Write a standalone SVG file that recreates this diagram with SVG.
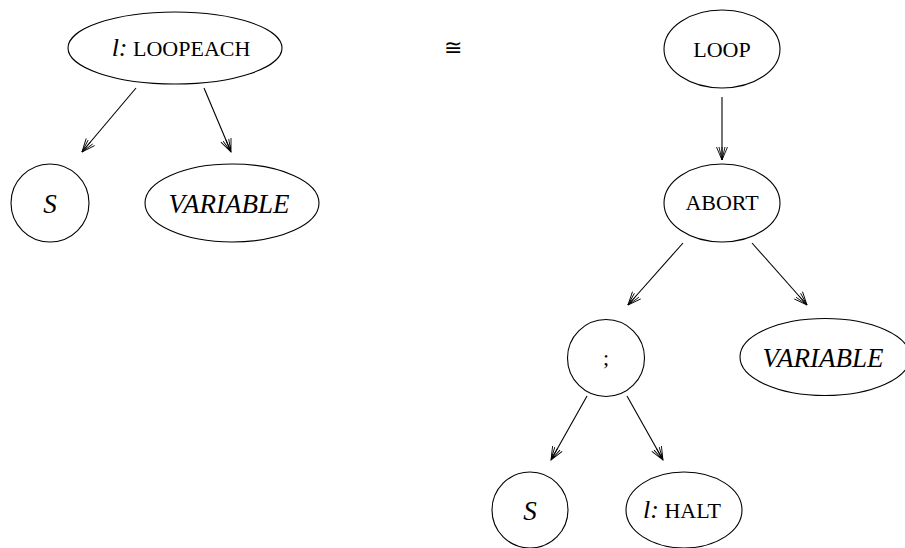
<svg xmlns="http://www.w3.org/2000/svg" width="905" height="548" viewBox="0 0 905 548">
  <style>
    .node { fill: #fff; stroke: #000; stroke-width: 1.1; }
    .lbl { font-family: "Liberation Serif", "DejaVu Serif", serif; font-size: 22px; fill: #000; text-anchor: middle; }
    .it { font-style: italic; font-size: 27px; }
    .lab { font-style: italic; font-size: 26px; }
    .edge { fill: none; stroke: #000; stroke-width: 1.1; marker-end: url(#barb); }
  </style>
  <defs>
    <marker id="barb" markerUnits="userSpaceOnUse" viewBox="-15 -7 17 14" refX="0" refY="0" markerWidth="17" markerHeight="14" orient="auto">
      <path d="M-13,-5.5 L0,0 L-13,5.5 M-13,-3 L0,0 L-13,3 M-13,0 L0,0" fill="none" stroke="#000" stroke-width="0.9"/>
    </marker>
  </defs>

  <!-- equivalence sign between the two trees -->
  <text x="453" y="55" class="lbl" style="font-family:'DejaVu Serif',serif;font-size:22px">≅</text>

  <g id="edges">
    <path class="edge" d="M136,88 L82,152"/>
    <path class="edge" d="M204,88 L231,152"/>
    <path class="edge" d="M722,97 L722,160"/>
    <path class="edge" d="M683,243 L628,305"/>
    <path class="edge" d="M752,243 L807,305"/>
    <path class="edge" d="M587,396 L551,460"/>
    <path class="edge" d="M627,396 L663,460"/>
  </g>

  <g id="loopeach">
    <ellipse class="node" cx="175" cy="48" rx="107" ry="36"/>
    <text class="lbl" x="181" y="56"><tspan class="lab">l:</tspan> LOOPEACH</text>
  </g>
  <g id="s-left">
    <circle class="node" cx="50" cy="203" r="39"/>
    <text class="lbl it" x="50" y="213">S</text>
  </g>
  <g id="variable-left">
    <ellipse class="node" cx="232" cy="203" rx="87" ry="39"/>
    <text class="lbl it" x="229" y="213">VARIABLE</text>
  </g>
  <g id="loop">
    <ellipse class="node" cx="722" cy="49" rx="58" ry="39"/>
    <text class="lbl" x="722" y="57">LOOP</text>
  </g>
  <g id="abort">
    <ellipse class="node" cx="722" cy="203" rx="58" ry="39"/>
    <text class="lbl" x="722" y="210">ABORT</text>
  </g>
  <g id="seq">
    <circle class="node" cx="606" cy="358" r="38.5"/>
    <text class="lbl" x="606" y="365">;</text>
  </g>
  <g id="variable-right">
    <ellipse class="node" cx="825" cy="357" rx="85" ry="38.5"/>
    <text class="lbl it" x="823" y="367">VARIABLE</text>
  </g>
  <g id="s-bottom">
    <circle class="node" cx="530" cy="510" r="38"/>
    <text class="lbl it" x="530" y="520">S</text>
  </g>
  <g id="halt">
    <ellipse class="node" cx="684" cy="510" rx="58" ry="38"/>
    <text class="lbl" x="682" y="518"><tspan class="lab">l:</tspan> HALT</text>
  </g>
</svg>
